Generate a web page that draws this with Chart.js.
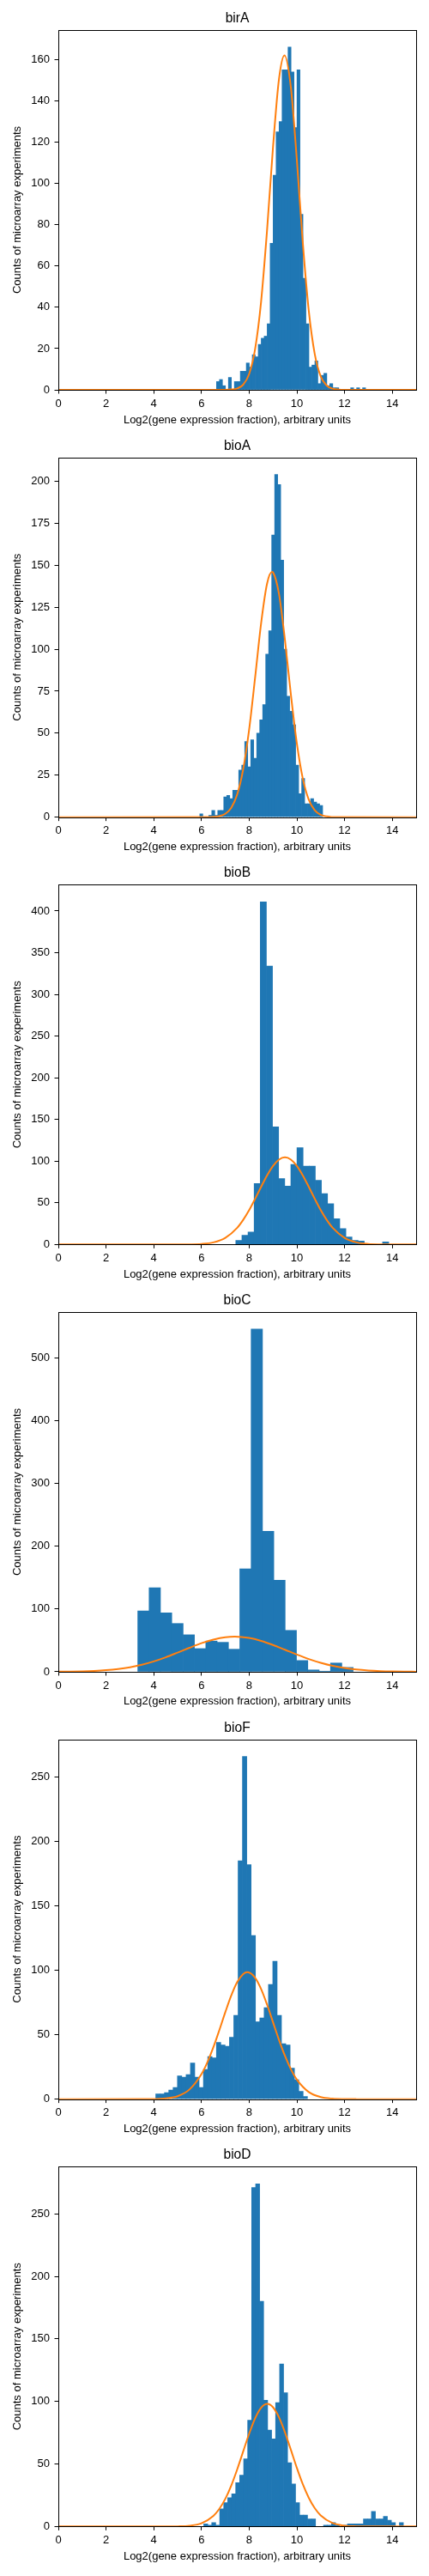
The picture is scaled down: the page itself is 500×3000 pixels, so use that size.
<!DOCTYPE html>
<html>
<head>
<meta charset="utf-8">
<script src="https://cdn.jsdelivr.net/npm/chart.js@4.4.1/dist/chart.umd.min.js"></script>
<style>
html,body{margin:0;padding:0;background:#fff;}
#wrap{position:relative;width:500px;height:3000px;overflow:hidden;}
.panel{position:absolute;left:0;width:500px;height:498px;}
canvas{display:block;}
</style>
</head>
<body>
<div id="wrap"></div>
<script>
// ---------- data ----------
const geneNames = ['birA', 'bioA', 'bioB', 'bioC', 'bioF', 'bioD'];
const xTickLabels = ['0', '2', '4', '6', '8', '10', '12', '14'];
const yTickSteps = [20, 25, 50, 100, 50, 50];

// histogram ranges (first bin left edge, last bin right edge) and counts
const birA_range = [6.63, 12.88];
const birA_counts = [4,5,2,0,6,0,4,4,9,9,13,11,17,16,22,25,26,32,71,104,125,130,155,155,166,154,127,155,85,54,32,11,12,14,3,7,8,2,3,1,1,0,0,0,0,1,0,1,0,1];

const bioA_range = [5.93, 11.08];
const bioA_counts = [2,0,0,1,4,1,4,4,12,13,11,16,16,28,31,45,30,46,35,50,58,67,97,111,168,204,198,153,100,72,63,55,31,14,23,8,8,11,9,8,7];

const bioB_range = [7.44, 13.85];
const bioB_counts = [5,11,15,73,411,334,141,79,70,96,116,94,94,77,61,49,31,19,9,5,4,0,0,0,3];

const bioC_range = [3.33, 12.36];
const bioC_counts = [97,134,94,77,59,37,49,47,36,164,546,224,146,66,18,3,1,14,7];

const bioF_range = [4.084, 10.444];
const bioF_counts = [4,4,5,7,9,18,17,19,28,17,9,23,33,32,44,42,41,48,65,185,266,182,127,60,63,71,89,107,65,43,42,24,15,6,2];

const bioD_range = [6.096, 14.465];
const bioD_counts = [2,1,3,1,14,19,23,26,35,41,54,85,271,274,180,101,77,70,99,130,107,51,34,19,9,9,6,6,0,0,1,1,3,1,0,1,2,2,2,2,6,6,12,6,6,8,5,3,0,3];

// orange fitted curves
const birA_curveX = [0,7.0,7.25,7.5,7.75,8.0,8.25,8.5,8.75,9.0,9.25,9.48,9.75,10.0,10.25,10.5,10.75,11.0,11.25,11.5,11.75,12.0,15];
const birA_curveY = [0,0.03,0.16,0.7,2.5,7.7,19.8,42.7,77.3,117.6,150.5,162,146.4,111.3,71.1,38.2,17.3,6.5,2.1,0.56,0.13,0.02,0];

const bioA_curveX = [0,6.25,6.5,6.75,7.0,7.25,7.5,7.75,8.0,8.25,8.5,8.75,8.96,9.0,9.25,9.5,9.75,10.0,10.25,10.5,10.75,11.0,11.25,11.5,11.75,15];
const bioA_curveY = [0,0.04,0.17,0.63,2.0,5.6,13.6,28.6,52.3,83.2,115.3,139.0,146,145.7,132.9,105.5,72.9,43.8,22.9,10.4,4.1,1.4,0.42,0.11,0.02,0];

const bioB_curveX = [0,5.0,5.5,6.0,6.5,7.0,7.5,7.75,8.0,8.25,8.5,8.75,9.0,9.25,9.5,9.75,10.0,10.25,10.5,10.75,11.0,11.25,11.5,12.0,12.5,13.0,13.5,14.0,15];
const bioB_curveY = [0,0.02,0.14,0.66,2.5,7.9,20.0,29.5,41.2,54.8,69.1,82.8,94.2,101.8,104.5,101.8,94.2,82.8,69.1,54.8,41.2,29.5,20.0,7.9,2.5,0.66,0.14,0.02,0];

const bioC_curveX = [0,0.5,1.0,1.5,2.0,2.5,3.0,3.5,4.0,4.5,5.0,5.5,6.0,6.5,7.0,7.4,8.0,8.5,9.0,9.5,10.0,10.5,11.0,11.5,12.0,12.5,13.0,13.5,14.0,14.5,15.0];
const bioC_curveY = [0.18,0.37,0.75,1.44,2.6,4.5,7.3,11.3,16.6,23.1,30.6,38.3,45.6,51.4,55.1,56,53.9,49.3,42.8,35.2,27.5,20.4,14.3,9.5,6.0,3.6,2.07,1.12,0.57,0.28,0.13];

const bioF_curveX = [0,3.5,4.0,4.5,5.0,5.5,6.0,6.25,6.5,6.75,7.0,7.25,7.5,7.75,7.93,8.25,8.5,8.75,9.0,9.25,9.5,9.75,10.0,10.5,11.0,11.5,12.0,12.5,15];
const bioF_curveY = [0,0.02,0.12,0.58,2.3,7.5,19.4,28.7,40.3,53.6,67.5,80.5,90.9,97.1,98.5,94.2,85.5,73.4,59.7,46.0,33.6,23.2,15.2,5.5,1.6,0.38,0.07,0.01,0];

const bioD_curveX = [0,4.5,5.0,5.5,6.0,6.5,6.75,7.0,7.25,7.5,7.75,8.0,8.25,8.5,8.76,9.0,9.25,9.5,9.75,10.0,10.25,10.5,10.75,11.0,11.5,12.0,12.5,13.0,15];
const bioD_curveY = [0,0.02,0.11,0.59,2.5,8.4,14.1,22.1,32.8,45.7,60.0,74.2,86.5,94.9,98,95.3,87.3,75.3,61.2,46.8,33.7,22.9,14.6,8.8,2.66,0.63,0.12,0.02,0];

// ---------- drawing ----------
Chart.defaults.font.family = "'Liberation Sans', Arial, sans-serif";
Chart.defaults.font.size = 13;
Chart.defaults.color = '#000';

const PITCH = 497.66;
const wrap = document.getElementById('wrap');

const framePlugin = {
  id: 'frame',
  afterDatasetsDraw(chart) {
    const {ctx, chartArea: a} = chart;
    const l = Math.round(a.left) + 0.5, t = Math.round(a.top) + 0.5;
    const r = Math.round(a.right) + 0.5, b = Math.round(a.bottom) + 0.5;
    ctx.save();
    ctx.strokeStyle = '#000';
    ctx.lineWidth = 1;
    ctx.strokeRect(l, t, r - l, b - t);
    ctx.restore();
  }
};

const panels = [
  [birA_range, birA_counts, birA_curveX, birA_curveY],
  [bioA_range, bioA_counts, bioA_curveX, bioA_curveY],
  [bioB_range, bioB_counts, bioB_curveX, bioB_curveY],
  [bioC_range, bioC_counts, bioC_curveX, bioC_curveY],
  [bioF_range, bioF_counts, bioF_curveX, bioF_curveY],
  [bioD_range, bioD_counts, bioD_curveX, bioD_curveY]
];

panels.forEach((p, i) => {
  const [range, counts, cx, cy] = p;
  const top = Math.floor(i * PITCH);
  const off = i * PITCH - top;
  const div = document.createElement('div');
  div.className = 'panel';
  div.style.top = top + 'px';
  const cv = document.createElement('canvas');
  cv.width = 500; cv.height = 498;
  cv.style.width = '500px'; cv.style.height = '498px';
  div.appendChild(cv);
  wrap.appendChild(div);

  const n = counts.length;
  const w = (range[1] - range[0]) / n;
  const bars = counts.map((c, k) => ({x: range[0] + (k + 0.5) * w, y: c}));
  const line = cx.map((x, k) => ({x: x, y: cy[k]}));
  const ymax = Math.max(...counts) * 1.05;

  const tickGrid = {display: true, drawOnChartArea: false, drawTicks: true, tickLength: 4.5, tickWidth: 1, tickColor: '#000', offset: false};

  new Chart(cv, {
    type: 'bar',
    data: {
      datasets: [
        {type: 'line', data: line, borderColor: '#ff7f0e', borderWidth: 2, pointRadius: 0,
         cubicInterpolationMode: 'monotone', fill: false, clip: 0, order: 0},
        {type: 'bar', data: bars, backgroundColor: '#1f77b4', borderWidth: 0,
         barPercentage: 1, categoryPercentage: 1, order: 1}
      ]
    },
    options: {
      responsive: false,
      animation: false,
      events: [],
      layout: {padding: {left: 0, right: 15, top: off, bottom: 0}},
      plugins: {
        legend: {display: false},
        tooltip: {enabled: false},
        title: {display: true, text: geneNames[i], fullSize: false, color: '#000',
                font: {size: 15.6, weight: 'normal'}, padding: {top: 12.34, bottom: 3.94}}
      },
      scales: {
        x: {
          type: 'linear', min: 0, max: 15, offset: false,
          afterFit(s) { s.height = 44 - off; },
          ticks: {stepSize: 2, includeBounds: false, padding: 3.7, maxRotation: 0, autoSkip: false,
                  color: '#000', font: {size: 13},
                  callback: (v) => xTickLabels[Math.round(v / 2)] !== undefined ? xTickLabels[Math.round(v / 2)] : ''},
          grid: tickGrid,
          border: {display: false},
          title: {display: true, text: 'Log2(gene expression fraction), arbitrary units', color: '#000',
                  font: {size: 13}, padding: {top: 0, bottom: 0.5}}
        },
        y: {
          type: 'linear', min: 0, max: ymax,
          afterFit(s) { s.width = 68; },
          ticks: {stepSize: yTickSteps[i], includeBounds: false, padding: 5.5, color: '#000', font: {size: 13}},
          grid: tickGrid,
          border: {display: false},
          title: {display: true, text: 'Counts of microarray experiments', color: '#000',
                  font: {size: 13}, padding: {top: 12.2, bottom: 0}}
        }
      }
    },
    plugins: [framePlugin]
  });
});
</script>
</body>
</html>
